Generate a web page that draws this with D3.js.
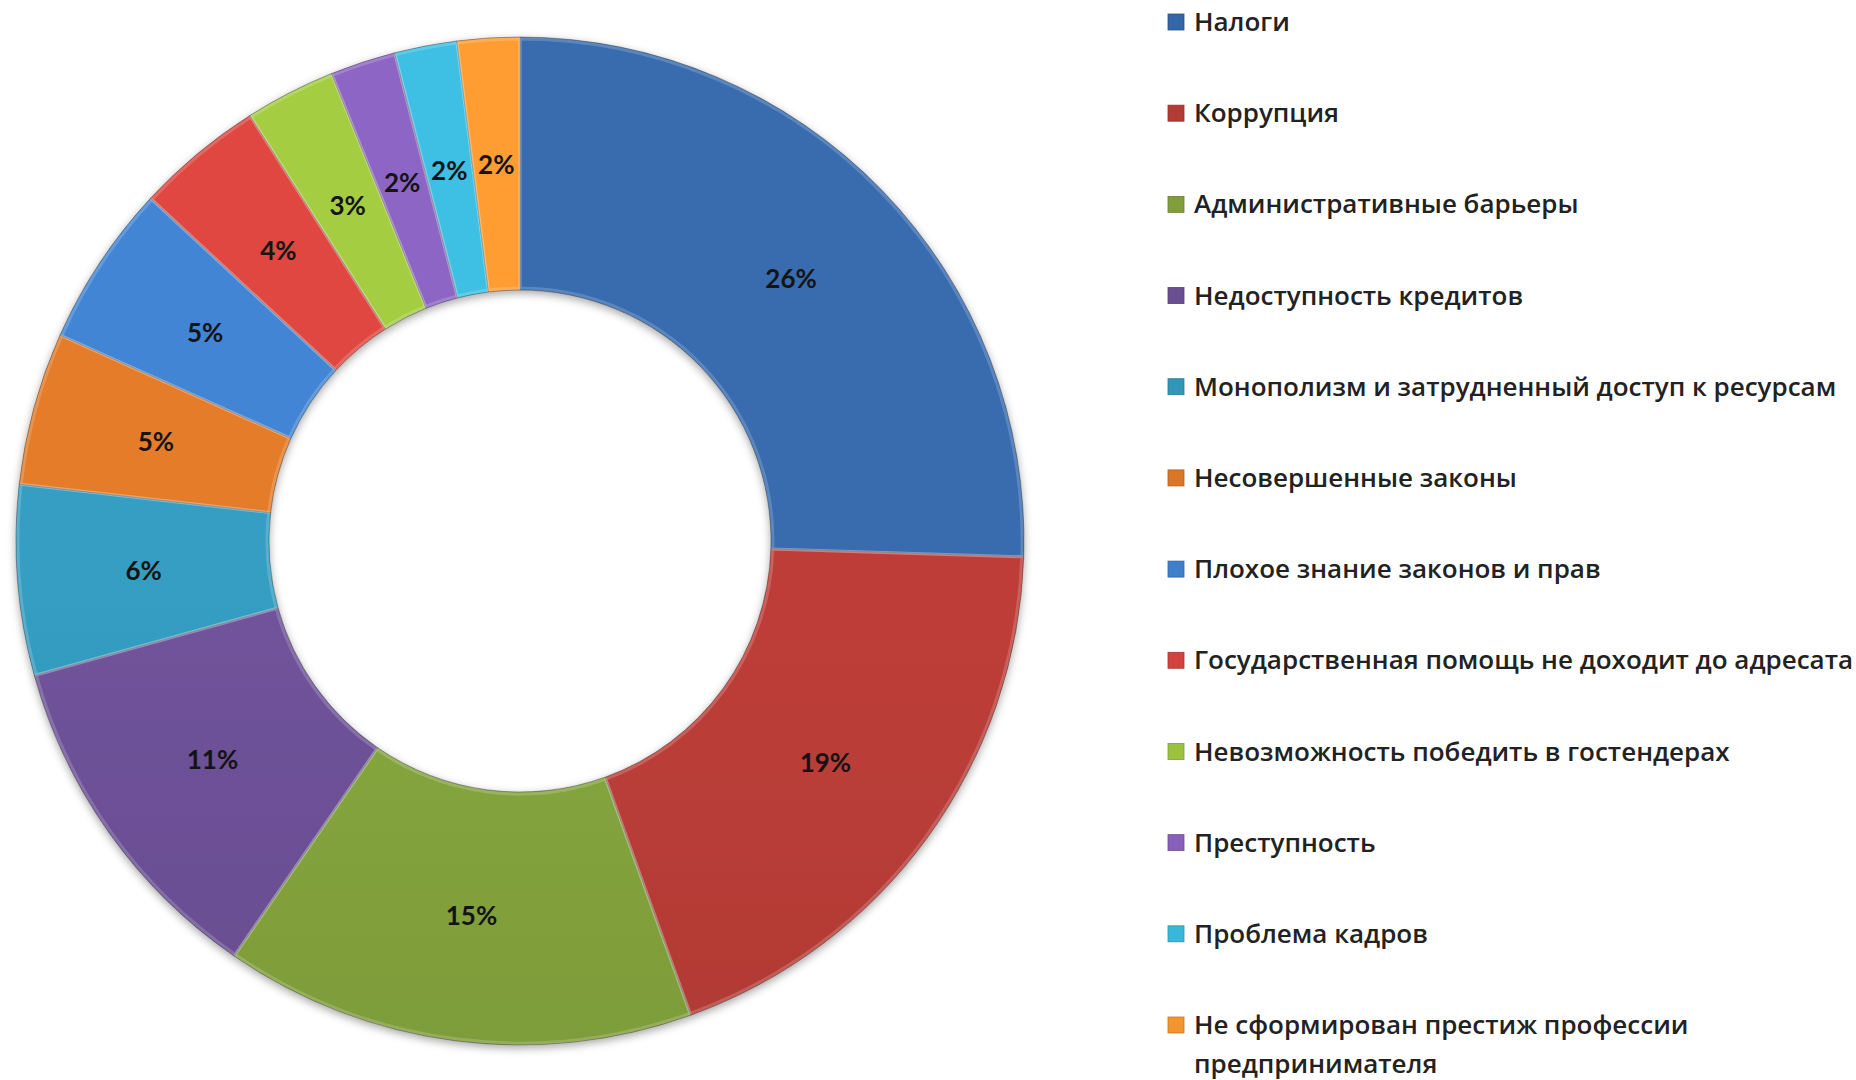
<!DOCTYPE html>
<html lang="ru">
<head>
<meta charset="utf-8">
<title>Donut</title>
<script src="https://cdn.jsdelivr.net/npm/d3@7"></script>
<style>
  body { margin: 0; background: #fff; }
  svg { display: block; }
</style>
</head>
<body>
<script>
// data (percent, clockwise from 12 o'clock)
var categories = [
  "Налоги",
  "Коррупция",
  "Административные барьеры",
  "Недоступность кредитов",
  "Монополизм и затрудненный доступ к ресурсам",
  "Несовершенные законы",
  "Плохое знание законов и прав",
  "Государственная помощь не доходит до адресата",
  "Невозможность победить в гостендерах",
  "Преступность",
  "Проблема кадров",
  "Не сформирован престиж профессии предпринимателя"
];
var values = [25.5, 19.0, 15.1, 11.1, 6.1, 4.9, 5.2, 4.1, 2.9, 2.1, 2.0, 2.0];
var colors = ["#3566a6", "#b53b36", "#809f3b", "#6a4f93", "#3196b8", "#d97627",
              "#3f7ec9", "#d3423e", "#9bc23f", "#8660bb", "#39b6d8", "#f4952e"];

var w = 1856, h = 1080;
var cx = 520, cy = 541;
var rOuter = 504, rInner = 251;

var svg = d3.select("body").append("svg")
    .attr("width", w)
    .attr("height", h);

svg.append("rect").attr("width", w).attr("height", h).attr("fill", "#fff");

var defs = svg.append("defs");

// soft shadow like the office chart
var shadow = defs.append("filter").attr("id", "shadow")
    .attr("x", "-10%").attr("y", "-10%").attr("width", "120%").attr("height", "120%");
shadow.append("feDropShadow")
    .attr("dx", 0).attr("dy", 3).attr("stdDeviation", 4)
    .attr("flood-color", "#000").attr("flood-opacity", 0.35);

// vertical shading per colour
colors.forEach(function(c, i) {
  var g = defs.append("linearGradient").attr("id", "grad" + i)
      .attr("gradientUnits", "userSpaceOnUse")
      .attr("x1", 0).attr("y1", cy - rOuter).attr("x2", 0).attr("y2", cy + rOuter);
  g.append("stop").attr("offset", "0%").attr("stop-color", d3.color(c).brighter(0.15));
  g.append("stop").attr("offset", "100%").attr("stop-color", d3.color(c).darker(0.3));
});

var pie = d3.pie().sort(null).value(function(d) { return d; });
var arcs = pie(values);

var arc = d3.arc().innerRadius(rInner).outerRadius(rOuter);
var bevel = d3.arc().innerRadius(rInner + 2).outerRadius(rOuter - 2);

var chart = svg.append("g")
    .attr("transform", "translate(" + cx + "," + cy + ")");

chart.append("g")
    .attr("filter", "url(#shadow)")
    .selectAll("path")
    .data(arcs)
    .enter()
    .append("path")
    .attr("d", arc)
    .attr("fill", function(d, i) { return "url(#grad" + i + ")"; })
    .attr("stroke", "#3a3a3a")
    .attr("stroke-opacity", 0.45)
    .attr("stroke-width", 1);

// light edge highlight
chart.append("g")
    .selectAll("path")
    .data(arcs)
    .enter()
    .append("path")
    .attr("d", bevel)
    .attr("fill", "none")
    .attr("stroke", "#fff")
    .attr("stroke-opacity", 0.18)
    .attr("stroke-width", 3);

var labelArc = d3.arc().innerRadius((rInner + rOuter) / 2).outerRadius((rInner + rOuter) / 2);

chart.selectAll("text.pct")
    .data(arcs)
    .enter()
    .append("text")
    .attr("class", "pct")
    .attr("transform", function(d) { return "translate(" + labelArc.centroid(d) + ")"; })
    .attr("text-anchor", "middle")
    .attr("dy", "0.36em")
    .attr("font-family", "Lato, 'Open Sans', sans-serif")
    .attr("font-weight", "bold")
    .attr("font-size", 26)
    .attr("fill", "#141414")
    .text(function(d) { return Math.round(d.data) + "%"; });

// legend
var legendY = d3.scaleLinear().domain([0, categories.length - 1]).range([22, 1025]);
var legX = 1168, textX = 1194, maxW = 690;

var legend = svg.append("g")
    .selectAll("g")
    .data(categories)
    .enter()
    .append("g")
    .attr("transform", function(d, i) { return "translate(0," + legendY(i) + ")"; });

legend.append("rect")
    .attr("x", legX)
    .attr("y", -8)
    .attr("width", 16)
    .attr("height", 16)
    .attr("fill", function(d, i) { return colors[i]; })
    .attr("stroke", function(d, i) { return d3.color(colors[i]).darker(0.6); })
    .attr("stroke-width", 0.8);

legend.append("text")
    .attr("x", textX)
    .attr("y", 0)
    .attr("dy", "0.35em")
    .attr("font-family", "'Open Sans', 'Noto Sans', sans-serif")
    .attr("font-size", 26)
    .attr("font-weight", 600)
    .attr("fill", "#222")
    .each(function(d) {
      var t = d3.select(this);
      var words = d.split(" ");
      var line = [];
      var tspan = t.append("tspan").attr("x", textX);
      words.forEach(function(word) {
        line.push(word);
        tspan.text(line.join(" "));
        if (tspan.node().getComputedTextLength() > maxW && line.length > 1) {
          line.pop();
          tspan.text(line.join(" "));
          line = [word];
          tspan = t.append("tspan").attr("x", textX).attr("dy", "1.5em").text(word);
        }
      });
    });
</script>
</body>
</html>
